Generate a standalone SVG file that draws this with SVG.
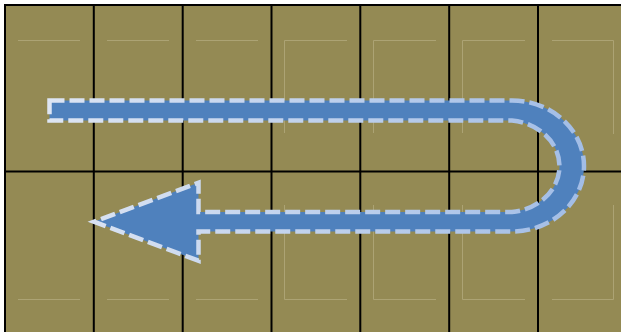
<svg xmlns="http://www.w3.org/2000/svg" width="621" height="332" viewBox="0 0 621 332">
  <defs>
    <style>
      .grid { stroke: #000; stroke-width: 2; fill: none; }
      .guide { stroke: #aca374; stroke-width: 1; fill: none; }
      .arrow { fill: #4f81bd; stroke: url(#dashGrad); stroke-width: 4.5; stroke-dasharray: 15 5; stroke-linejoin: miter; }
    </style>
    <linearGradient id="dashGrad" gradientUnits="userSpaceOnUse" x1="49" y1="0" x2="586" y2="0">
      <stop offset="0" stop-color="#dde5f3"/>
      <stop offset="1" stop-color="#a2bde6"/>
    </linearGradient>
  </defs>
  <rect x="0" y="0" width="621" height="332" fill="#ffffff"/>
  <rect x="5" y="5" width="630" height="340" fill="#948a54"/>

  <g id="guides">
    <path class="guide" d="M18,40.5H80 M107,40.5H169 M196,40.5H258"/>
    <path class="guide" d="M18,299.5H80 M107,299.5H169 M196,299.5H258"/>
    <path class="guide" d="M284.5,133V40.5H347 M373.5,133V40.5H436 M462.5,133V40.5H525 M552,40.5H613.5V134"/>
    <path class="guide" d="M284.5,205V299.5H347 M373.5,205V299.5H436 M462.5,205V299.5H525 M552,299.5H613.5V205"/>
  </g>

  <g id="grid">
    <path class="grid" d="M5,5V340 M93.8,5V340 M182.7,5V340 M271.5,5V340 M360.3,5V340 M449.2,5V340 M538,5V340"/>
    <path class="grid" d="M4,5H630 M4,171.5H630"/>
  </g>

  <g id="connectors">
    <path id="uturn-arrow" class="arrow" d="M49.5,100.5 H512 A72,65.5 0 0 1 512,231.5 H198.5 V260.7 L94,221.7 L198.5,182.7 V212 H512 A53,46 0 0 0 512,120.5 H49.5 Z"/>
  </g>
</svg>
